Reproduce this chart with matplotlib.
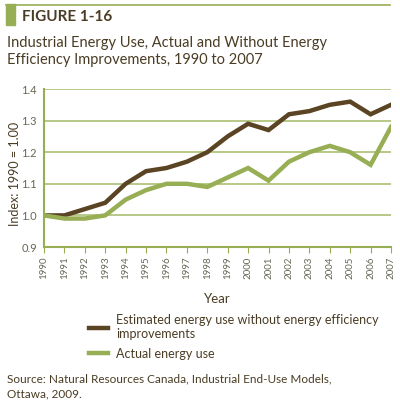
import matplotlib
matplotlib.use("Agg")
import matplotlib.pyplot as plt
from matplotlib.lines import Line2D

# data
years = list(range(1990, 2008))
estimated = [1.00, 1.00, 1.02, 1.04, 1.10, 1.14, 1.15, 1.17, 1.20, 1.25,
             1.29, 1.27, 1.32, 1.33, 1.35, 1.36, 1.32, 1.35]
actual = [1.00, 0.99, 0.99, 1.00, 1.05, 1.08, 1.10, 1.10, 1.09, 1.12,
          1.15, 1.11, 1.17, 1.20, 1.22, 1.20, 1.16, 1.28]
y_ticks = [0.9, 1.0, 1.1, 1.2, 1.3, 1.4]
series_labels = ["Estimated energy use without energy efficiency\nimprovements",
                 "Actual energy use"]

brown = "#5a4424"
green = "#97ae55"
grid_green = "#aabf72"
text_col = "#4a3c24"

plt.rcParams['font.family'] = ['Lato', 'DejaVu Sans']

fig = plt.figure(figsize=(4.0, 4.03), dpi=100)

# header bar + rule
fig.patches.append(plt.Rectangle((6/400, 1-25/403), 9/400, 21/403,
                                 transform=fig.transFigure, color=green))
fig.lines.append(Line2D([6/400, 390/400], [1-4.5/403, 1-4.5/403],
                        transform=fig.transFigure, color=green, lw=1.2))
fig.text(22/400, 1-17/403, "FIGURE 1-16", fontsize=11, fontweight='bold',
         color=text_col, va='center')
fig.text(7/400, 1-43/403, "Industrial Energy Use, Actual and Without Energy",
         fontsize=10.5, color=text_col, va='center')
fig.text(7/400, 1-60/403, "Efficiency Improvements, 1990 to 2007",
         fontsize=10.5, color=text_col, va='center')

ax = fig.add_axes([44/400, 1-247/403, 347/400, 158/403])
l1, = ax.plot(years, estimated, color=brown, lw=3.2, solid_joinstyle='miter')
l2, = ax.plot(years, actual, color=green, lw=3.2, solid_joinstyle='miter')

ax.set_xlim(1990, 2007)
ax.set_ylim(0.9, 1.4)
ax.set_yticks(y_ticks)
ax.set_yticklabels([f"{v:.1f}" for v in y_ticks])
ax.set_xticks(years)
ax.set_xticklabels([str(y) for y in years], rotation=90)
ax.grid(axis='y', color=grid_green, lw=1.2)
ax.set_axisbelow(True)
for s in ['top', 'right']:
    ax.spines[s].set_visible(False)
for s in ['left', 'bottom']:
    ax.spines[s].set_color(green)
    ax.spines[s].set_linewidth(1.5)
ax.tick_params(axis='y', length=0, labelsize=8, labelcolor='#666655', pad=5)
ax.tick_params(axis='x', length=4, color=green, labelsize=7, labelcolor='#666655', pad=3)

ax.set_ylabel("Index: 1990 = 1.00", fontsize=9, color=text_col)
ax.yaxis.set_label_coords(-23/347, (247-174)/158)
ax.set_xlabel("Year", fontsize=9.5, color=text_col, labelpad=10)

fig.legend([l1, l2], series_labels, loc='upper left',
           bbox_to_anchor=(84/400, 1-309/403), frameon=False, fontsize=9,
           labelcolor=text_col, handlelength=1.5, handletextpad=0.7,
           labelspacing=0.6, borderaxespad=0)

fig.text(7/400, 1-379/403, "Source: Natural Resources Canada, Industrial End-Use Models,",
         fontsize=8.5, color=text_col, va='center')
fig.text(7/400, 1-394/403, "Ottawa, 2009.", fontsize=8.5, color=text_col, va='center')

fig.savefig("out.png", dpi=100)
